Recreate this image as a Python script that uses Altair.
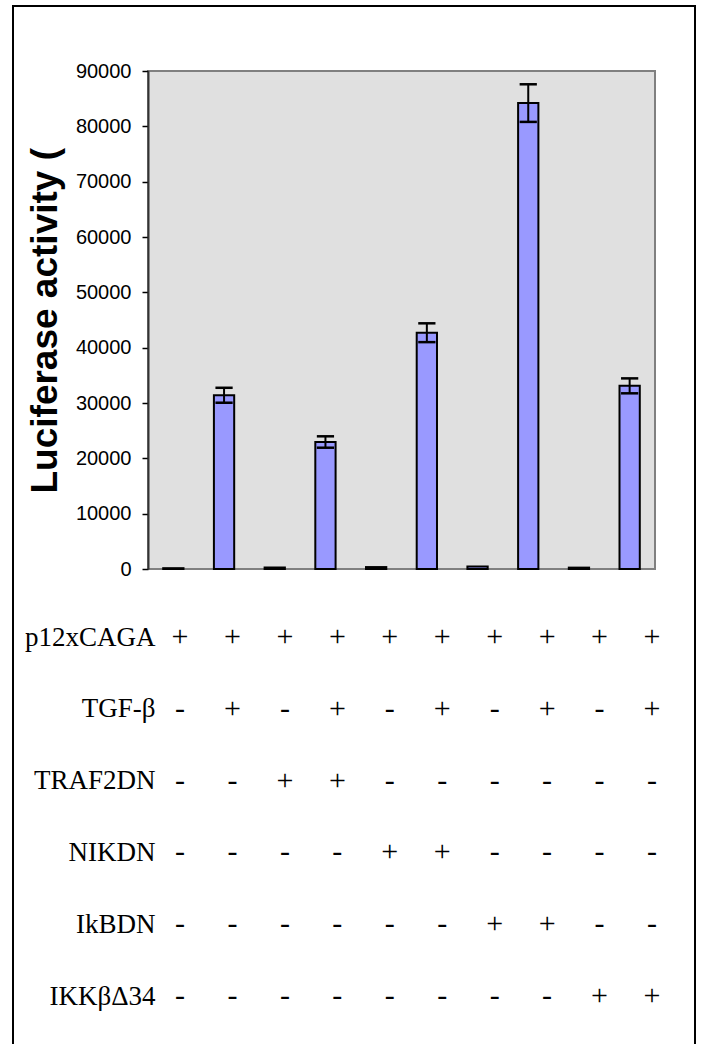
import altair as alt
import pandas as pd

# Reporter readings for the ten transfection conditions (left to right)
condition_idx = [0, 1, 2, 3, 4, 5, 6, 7, 8, 9]
activity = [150, 31400, 250, 22950, 350, 42700, 450, 84200, 250, 33100]
activity_err = [0, 1350, 0, 1030, 0, 1700, 0, 3400, 0, 1350]

y_ticks = [0, 10000, 20000, 30000, 40000, 50000, 60000, 70000, 80000, 90000]

# Construct table shown beneath the bars
row_names = ["p12xCAGA", "TGF-β", "TRAF2DN", "NIKDN", "IkBDN", "IKKβΔ34"]
p12xcaga = ["+", "+", "+", "+", "+", "+", "+", "+", "+", "+"]
tgf_beta = ["-", "+", "-", "+", "-", "+", "-", "+", "-", "+"]
traf2dn = ["-", "-", "+", "+", "-", "-", "-", "-", "-", "-"]
nikdn = ["-", "-", "-", "-", "+", "+", "-", "-", "-", "-"]
ikbdn = ["-", "-", "-", "-", "-", "-", "+", "+", "-", "-"]
ikkb_d34 = ["-", "-", "-", "-", "-", "-", "-", "-", "+", "+"]
row_marks = [p12xcaga, tgf_beta, traf2dn, nikdn, ikbdn, ikkb_d34]

bars_df = pd.DataFrame({"cond": condition_idx, "activity": activity, "err": activity_err})
panel_df = pd.DataFrame({"lo": [condition_idx[0] - 0.5], "hi": [condition_idx[-1] + 0.5],
                         "y0": [y_ticks[0]], "y1": [y_ticks[-1]]})
table_df = pd.DataFrame(
    [{"col": c, "row": name, "sym": marks[c]}
     for name, marks in zip(row_names, row_marks) for c in condition_idx]
)

x_scale = alt.Scale(domain=[-0.5, 9.5], range=[135, 642], nice=False, zero=False)
y_scale = alt.Scale(domain=[0, 90000], range=[563, 65], nice=False)

y_axis = alt.Axis(
    orient="left", offset=-135, values=y_ticks, format="d", grid=False, zindex=1,
    domainColor="#333333", domainWidth=2,
    tickColor="black", tickWidth=1.5, tickSize=6,
    labelFont="Liberation Sans", labelFontSize=20, labelColor="black", labelPadding=11,
    title="Luciferase activity (", titleFont="Liberation Sans", titleFontSize=37,
    titleFontWeight="bold", titleColor="black", titleAngle=270, titleAlign="left",
    titleBaseline="alphabetic", titleX=-92, titleY=487,
)

panel = alt.Chart(panel_df).mark_rect(fill="#e0e0e0", stroke="#808080", strokeWidth=2).encode(
    x=alt.X("lo:Q", scale=x_scale, axis=None),
    x2="hi:Q",
    y=alt.Y("y0:Q", scale=y_scale, axis=y_axis),
    y2="y1:Q",
)

bars = alt.Chart(bars_df).transform_calculate(
    x_lo="datum.cond - 0.2", x_hi="datum.cond + 0.2"
).mark_rect(fill="#9999ff", stroke="black", strokeWidth=2).encode(
    x=alt.X("x_lo:Q", scale=x_scale, axis=None),
    x2="x_hi:Q",
    y=alt.Y("activity:Q", scale=y_scale, axis=y_axis),
    y2=alt.datum(0),
)

err_base = alt.Chart(bars_df).transform_filter("datum.err > 0").transform_calculate(
    lo="datum.activity - datum.err", hi="datum.activity + datum.err",
    cap_l="datum.cond - 0.17", cap_r="datum.cond + 0.17",
)

err_stem = err_base.mark_rule(color="black", strokeWidth=2).encode(
    x=alt.X("cond:Q", scale=x_scale, axis=None),
    y=alt.Y("lo:Q", scale=y_scale, axis=y_axis),
    y2="hi:Q",
)
cap_hi = err_base.mark_rule(color="black", strokeWidth=2.5).encode(
    x=alt.X("cap_l:Q", scale=x_scale, axis=None), x2="cap_r:Q",
    y=alt.Y("hi:Q", scale=y_scale, axis=y_axis),
)
cap_lo = err_base.mark_rule(color="black", strokeWidth=2.5).encode(
    x=alt.X("cap_l:Q", scale=x_scale, axis=None), x2="cap_r:Q",
    y=alt.Y("lo:Q", scale=y_scale, axis=y_axis),
)

plot = alt.layer(panel, bars, err_stem, cap_hi, cap_lo)

table = alt.Chart(table_df).mark_text(
    font="Liberation Serif", fontSize=30, color="black", baseline="middle", align="center"
).encode(
    x=alt.X("col:Q", scale=alt.Scale(domain=[0, 9], range=[167, 639], nice=False, zero=False), axis=None),
    y=alt.Y("row:N", sort=row_names,
            scale=alt.Scale(type="point", range=[631, 990], padding=0),
            axis=alt.Axis(orient="left", offset=-142, domain=False, ticks=False, tickSize=0,
                          labelPadding=0, labelFont="Liberation Serif", labelFontSize=27,
                          labelColor="black", labelBaseline="middle", title=None, grid=False)),
    text="sym:N",
)

chart = alt.layer(plot, table).resolve_scale(
    x="independent", y="independent"
).properties(
    width=682, height=1040,
    autosize=alt.AutoSizeParams(type="none"),
    padding={"left": 13, "top": 6, "right": 8, "bottom": -2},
    background="white",
).configure_view(stroke="black", strokeWidth=2, fill="white")

chart.save("out.html", embed_options={"renderer": "svg", "actions": False})
